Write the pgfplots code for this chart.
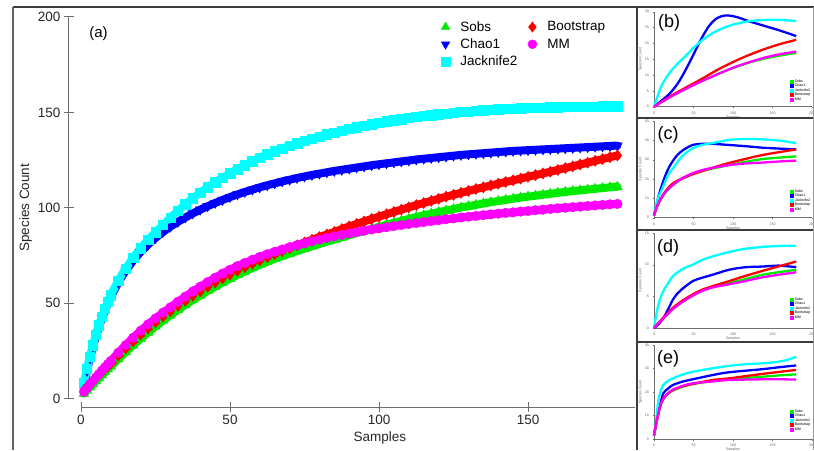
\documentclass[border=0pt]{standalone}
\usepackage{pgfplots}
\usepackage{pgfplotstable}
\pgfplotsset{compat=1.18}
\usepackage{fontspec}
\setmainfont{Liberation Sans}
\definecolor{cgreen}{RGB}{0,235,0}
\definecolor{cblue}{RGB}{0,0,255}
\definecolor{ccyan}{RGB}{0,255,255}
\definecolor{cred}{RGB}{255,0,0}
\definecolor{cmag}{RGB}{255,0,255}
\definecolor{axgray}{RGB}{110,110,110}
\definecolor{frame}{RGB}{60,60,60}
\newcommand\mainfs{\fontsize{13.5}{16}\selectfont}
\newcommand\tinyfs{\fontsize{3.6}{4.2}\selectfont}
\pgfplotsset{/pgf/number format/assume math mode=true}

\pgfplotstableread{
x S C J B M
1 2.5 7 8 4.5 3.5
2 4.2 14.5 15.5 6.2 5.5
3 5.9 21 22 7.8 7.5
4 7.5 27 28 9.4 9.3
5 9.1 32.5 33.5 10.9 11.0
6 10.7 37.5 38.5 12.4 12.8
7 12.3 42 43 13.9 14.6
8 13.9 46 47 15.4 16.3
9 15.4 49.8 50.8 16.8 18.0
10 16.9 53.2 54.2 18.3 19.7
12.5 20.7 60.8 61.8 22.5 24.0
15 24.3 67.0 68.2 26.3 28.0
17.5 27.9 72.3 73.8 30.0 31.9
20 31.3 76.8 78.8 33.5 35.5
22.5 34.6 80.7 83.2 36.8 38.9
25 37.8 84.2 87.2 40.0 42.0
27.5 40.8 87.3 91.0 43.0 45.0
30 43.6 90.1 94.8 45.8 47.8
32.5 46.4 92.6 98.4 48.6 50.7
35 49.0 94.9 101.8 51.2 53.4
37.5 51.6 97.0 105.0 53.8 56.1
40 54.0 99.0 108.0 56.2 58.6
42.5 56.4 100.8 110.8 58.6 61.0
45 58.6 102.5 113.4 60.8 63.3
47.5 60.8 104.1 115.8 63.0 65.5
50 62.8 105.6 118.1 65.0 67.5
52.5 64.8 107.0 120.3 67.0 69.4
55 66.6 108.3 122.4 68.9 71.1
57.5 68.4 109.5 124.4 70.7 72.7
60 70.1 110.7 126.3 72.4 74.2
62.5 71.7 111.8 128.0 74.1 75.6
65 73.2 112.8 129.6 75.7 76.9
67.5 74.6 113.8 131.1 77.3 78.1
70 76.0 114.7 132.5 78.8 79.3
72.5 77.3 115.6 133.8 80.3 80.4
75 78.6 116.4 135.1 81.8 81.4
77.5 79.8 117.2 136.3 83.2 82.4
80 81.0 117.9 137.4 84.6 83.3
82.5 82.2 118.6 138.5 86.0 84.2
85 83.3 119.3 139.5 87.3 85.0
87.5 84.5 119.9 140.5 88.8 85.8
90 85.6 120.5 141.4 90.2 86.5
92.5 86.7 121.1 142.3 91.5 87.2
95 87.8 121.7 143.1 92.8 87.9
97.5 88.9 122.3 143.9 94.1 88.6
100 90.0 122.8 144.6 95.3 89.2
102.5 91.1 123.3 145.3 96.6 89.8
105 92.1 123.8 145.9 97.8 90.4
107.5 93.1 124.3 146.5 99.0 91.0
110 94.1 124.8 147.1 100.2 91.5
112.5 95.1 125.3 147.6 101.4 92.0
115 96.0 125.7 148.1 102.5 92.5
117.5 96.9 126.1 148.6 103.6 93.0
120 97.7 126.5 149.0 104.7 93.5
122.5 98.5 126.9 149.4 105.8 94.0
125 99.3 127.3 149.8 106.8 94.4
127.5 100.1 127.7 150.2 107.8 94.9
130 100.8 128.0 150.5 108.8 95.3
132.5 101.5 128.3 150.8 109.8 95.7
135 102.2 128.6 151.1 110.7 96.1
137.5 102.9 128.9 151.4 111.7 96.5
140 103.5 129.2 151.6 112.6 96.9
142.5 104.1 129.5 151.8 113.5 97.3
145 104.7 129.8 152.0 114.4 97.6
147.5 105.3 130.0 152.2 115.3 98.0
150 105.8 130.2 152.4 116.2 98.3
152.5 106.3 130.4 152.5 117.1 98.7
155 106.8 130.6 152.6 118.0 99.0
157.5 107.3 130.8 152.7 118.9 99.4
160 107.8 131.0 152.8 119.8 99.7
162.5 108.3 131.2 152.9 120.8 100.0
165 108.7 131.4 153.0 121.7 100.3
167.5 109.1 131.6 153.0 122.7 100.6
170 109.5 131.8 153.1 123.6 100.9
172.5 109.9 132.0 153.1 124.6 101.2
175 110.3 132.2 153.2 125.5 101.5
177.5 110.7 132.4 153.2 126.5 101.8
180 111.0 132.6 153.2 127.4 102.0
}\maindata

\pgfplotsset{
  smallpanel/.style={
    scale only axis, width=158pt, height=95pt,
    xmin=0, xmax=200, clip=false,
    axis lines*=left, axis line style={axgray, line width=0.4pt},
    xtick={0,50,100,150,200},
    tick style={axgray, line width=0.3pt},
    major tick length=1.5pt, tick align=outside,
    tick label style={font=\tinyfs, text=black!60},
    xlabel=Samples, ylabel=Species Count,
    label style={font=\tinyfs, text=black!60},
    xlabel style={yshift=5.5pt},
    ylabel style={yshift=-4pt},
    legend cell align=left,
    legend image code/.code={\fill[##1] (-0.9pt,-0.9pt) rectangle (0.9pt,0.9pt);},
    legend style={draw=none, fill=none, font=\tinyfs, anchor=north west,
      inner sep=0pt, row sep=-0.6pt, nodes={inner sep=0.5pt}},
    every axis plot/.append style={line width=2.3pt, smooth},
  },
  band/.style={line width=8pt, line join=round, line cap=round, forget plot},
}

\begin{document}
\begin{tikzpicture}[x=1pt,y=1pt]
\useasboundingbox (0,0) rectangle (814,450);

% ---------- main panel (a) ----------
\begin{axis}[at={(81pt,51.5pt)}, anchor=south west, scale only axis,
  width=554.3pt, height=381.5pt, xmin=0, xmax=186, ymin=0, ymax=200,
  axis lines=none, clip=false,
  legend image code/.code={\draw[#1] plot coordinates {(0pt,0pt)};},
  legend columns=2, legend cell align=left,
  legend style={draw=none, fill=none, font=\mainfs, inner sep=0pt,
    at={(rel axis cs:0.6495,0.993)}, anchor=north west,
    column sep=6pt, row sep=3pt, nodes={inner xsep=4.5pt, inner ysep=1.5pt}},
]
\addplot[cgreen, band] table[x=x,y=S]{\maindata};
\addplot[only marks, mark=triangle*, mark size=5.6, color=cgreen, forget plot] table[x=x,y=S]{\maindata};
\addplot[cblue, band] table[x=x,y=C]{\maindata};
\addplot[only marks, mark=triangle*, mark size=5.6, mark options={rotate=180}, color=cblue, forget plot] table[x=x,y=C]{\maindata};
\addplot[ccyan, band] table[x=x,y=J]{\maindata};
\addplot[only marks, mark=square*, mark size=4.7, color=ccyan, forget plot] table[x=x,y=J]{\maindata};
\addplot[cred, band] table[x=x,y=B]{\maindata};
\addplot[only marks, mark=diamond*, mark size=5.6, color=cred, forget plot] table[x=x,y=B]{\maindata};
\addplot[cmag, band] table[x=x,y=M]{\maindata};
\addplot[only marks, mark=*, mark size=4.8, color=cmag, forget plot] table[x=x,y=M]{\maindata};
\addlegendimage{only marks, mark=triangle*, mark size=5, color=cgreen}
\addlegendentry{Sobs}
\addlegendimage{only marks, mark=diamond*, mark size=5.2, color=cred}
\addlegendentry{Bootstrap}
\addlegendimage{only marks, mark=triangle*, mark size=5, mark options={rotate=180}, color=cblue}
\addlegendentry{Chao1}
\addlegendimage{only marks, mark=*, mark size=4.5, color=cmag}
\addlegendentry{MM}
\addlegendimage{only marks, mark=square*, mark size=4.3, color=ccyan}
\addlegendentry{Jacknife2}
\end{axis}

% x axis of (a), detached
\begin{axis}[at={(81pt,43pt)}, anchor=south west, scale only axis,
  width=554.3pt, height=5pt, xmin=0, xmax=186, ymin=0, ymax=1,
  axis x line*=bottom, axis y line=none, ytick=\empty,
  xtick={0,50,100,150}, tick align=center, major tick length=10pt,
  axis line style={axgray, line width=1pt}, tick style={axgray, line width=1pt},
  tick label style={font=\mainfs, text=black!85},
  xlabel=Samples,
  every axis x label/.style={at={(axis description cs:0.539,0)}, yshift=-31pt, anchor=center, font=\mainfs, text=black!85},
]
\end{axis}

% y axis of (a), detached
\begin{axis}[at={(69pt,51.5pt)}, anchor=south west, scale only axis,
  width=5pt, height=381.5pt, xmin=0, xmax=1, ymin=0, ymax=200,
  axis y line*=left, axis x line=none, xtick=\empty,
  ytick={0,50,100,150,200}, tick align=center, major tick length=10pt,
  axis line style={axgray, line width=1pt}, tick style={axgray, line width=1pt},
  tick label style={font=\mainfs, text=black!85},
  ylabel=Species Count,
  every axis y label/.style={at={(axis description cs:0,0.5)}, xshift=-43.3pt, rotate=90, anchor=center, font=\mainfs, text=black!85},
]
\end{axis}

\node[font=\fontsize{15}{17}\selectfont] at (98.5,416) {(a)};

% ---------- panel (b) ----------
\begin{axis}[smallpanel, at={(654pt,343.3pt)}, anchor=south west,
  ymin=0, ymax=30, ytick={0,5,...,30},
  legend style={at={(rel axis cs:0.861,0.29)}}]
\addplot[cgreen] coordinates {(0,0) (20,3.0) (40,5.6) (60,8) (80,10.2) (100,12.2) (120,13.9) (140,15.2) (160,16.2) (180,17.0)};
\addlegendentry{Sobs}
\addplot[cblue] coordinates {(0,0) (10,2) (20,4.2) (30,7.3) (40,11.6) (50,16.5) (60,21.5) (70,25.6) (80,28) (90,28.8) (100,28.6) (110,27.9) (120,27) (140,25.5) (160,24) (180,22.3)};
\addlegendentry{Chao1}
\addplot[ccyan] coordinates {(0,0) (5,3.6) (10,6.9) (20,10.8) (30,13.6) (40,16) (50,18.6) (60,20.8) (70,22.6) (80,24) (90,25.1) (100,25.9) (110,26.5) (120,27) (140,27.4) (160,27.4) (180,27.05)};
\addlegendentry{Jacknife2}
\addplot[cred] coordinates {(0,0) (20,3.2) (40,6) (60,8.7) (80,11.6) (100,14.1) (120,16.3) (140,18.2) (160,19.8) (180,21.1)};
\addlegendentry{Bootstrap}
\addplot[cmag] coordinates {(0,0) (20,3.0) (40,5.6) (60,8) (80,10.2) (100,12.3) (120,14) (140,15.5) (160,16.6) (180,17.4)};
\addlegendentry{MM}
\end{axis}
\node[font=\fontsize{18}{20}\selectfont] at (669,427.5) {(b)};

% ---------- panel (c) ----------
\begin{axis}[smallpanel, at={(654pt,232.3pt)}, anchor=south west,
  height=96.7pt, ymin=0, ymax=50, ytick={0,10,...,50},
  legend style={at={(rel axis cs:0.861,0.297)}}]
\addplot[cgreen] coordinates {(0,1) (3,4.8) (7.5,8.8) (15,13.3) (24,16.8) (36,20.2) (49,22.6) (60,24.1) (74,25.4) (95,27.2) (115,28.8) (137,30.3) (160,31.1) (180,31.7)};
\addlegendentry{Sobs}
\addplot[cblue] coordinates {(0,1) (3,6.5) (6,11.5) (10,16.8) (15,22.5) (20,26.8) (25,30) (30,32.6) (37,35) (49,37.6) (62,38.2) (74,38.2) (95,37.6) (115,37) (137,36.2) (160,35.7) (180,35.3)};
\addlegendentry{Chao1}
\addplot[ccyan] coordinates {(0,1) (3,7) (6,11) (10,14.5) (15,19.5) (20,23.5) (24,25.5) (30,29) (37,32.4) (49,35.9) (60,37.5) (74,38.6) (95,40.2) (116,40.7) (137,40.5) (158,39.9) (180,38.5)};
\addlegendentry{Jacknife2}
\addplot[cred] coordinates {(0,1.5) (3,5) (7.5,9.1) (15,14) (24,17.8) (36,20.3) (49,22.5) (60,24) (74,25.8) (95,28.3) (115,30.3) (137,32.4) (160,34) (180,35.3)};
\addlegendentry{Bootstrap}
\addplot[cmag] coordinates {(0,1) (3,5) (7.5,9) (15,13.5) (24,17) (36,20.5) (49,23) (60,24.5) (74,25.8) (95,27.2) (115,28) (137,28.5) (160,29.1) (180,29.5)};
\addlegendentry{MM}
\end{axis}
\node[font=\fontsize{18}{20}\selectfont] at (668,315) {(c)};

% ---------- panel (d) ----------
\begin{axis}[smallpanel, at={(654pt,122pt)}, anchor=south west,
  ymin=0, ymax=15, ytick={0,5,10,15},
  legend style={at={(rel axis cs:0.861,0.326)}}]
\addplot[cgreen] coordinates {(0,0) (10,1.3) (24,3.0) (37,4.2) (49,5.1) (60,5.8) (74,6.45) (95,7.1) (115,7.7) (137,8.4) (160,8.85) (180,9.2)};
\addlegendentry{Sobs}
\addplot[cblue] coordinates {(0,0) (5,0.5) (12,1.6) (18,3) (24,4.5) (30,5.5) (37,6.3) (49,7.4) (60,7.9) (74,8.4) (95,9.2) (116,9.6) (137,9.7) (158,9.85) (180,9.6)};
\addlegendentry{Chao1}
\addplot[ccyan] coordinates {(0,0) (3.3,2.4) (7,4.3) (11.7,5.8) (18,7.1) (24,8.2) (36,9.3) (49,10) (60,10.7) (74,11.3) (95,12) (115,12.5) (137,12.8) (158,12.95) (180,13.0)};
\addlegendentry{Jacknife2}
\addplot[cred] coordinates {(0,0) (10,1.4) (24,3.2) (37,4.4) (49,5.3) (60,6) (74,6.6) (95,7.4) (115,8.2) (137,9.0) (160,9.8) (180,10.5)};
\addlegendentry{Bootstrap}
\addplot[cmag] coordinates {(0,0) (10,1.3) (24,3.0) (37,4.2) (49,5.1) (60,5.8) (74,6.4) (95,6.9) (115,7.4) (137,8.0) (160,8.45) (180,8.8)};
\addlegendentry{MM}
\end{axis}
\node[font=\fontsize{18}{20}\selectfont] at (668,202) {(d)};

% ---------- panel (e) ----------
\begin{axis}[smallpanel, at={(654pt,11pt)}, anchor=south west,
  height=94pt, ymin=0, ymax=40, ytick={0,10,...,40},
  legend style={at={(rel axis cs:0.861,0.319)}}]
\addplot[cgreen] coordinates {(0,1.5) (3,6.8) (7.5,13.3) (11.7,16.8) (18,19.2) (24,20.6) (36,22.2) (49,23.4) (74,24.6) (95,25.4) (137,26.5) (160,27.1) (180,27.5)};
\addlegendentry{Sobs}
\addplot[cblue] coordinates {(0,1.5) (3.3,8) (7.5,14) (11.7,19.4) (18,21.5) (24,23) (36,24.4) (49,25.4) (74,27.2) (95,28.4) (137,29.7) (160,30.6) (180,31.3)};
\addlegendentry{Chao1}
\addplot[ccyan] coordinates {(0,1.5) (1.25,3.1) (3.3,10.2) (5,15) (7.5,19.4) (11.7,23) (18,24.8) (24,25.8) (36,27.4) (49,28.6) (74,30.1) (95,31.1) (115,31.8) (137,32.2) (158,32.9) (170,33.8) (180,35.0)};
\addlegendentry{Jacknife2}
\addplot[cred] coordinates {(0,1.5) (3,7) (7.5,13.7) (11.7,17.3) (18,19.5) (24,20.9) (36,22.4) (49,23.4) (74,25.1) (95,25.8) (137,27.7) (160,28.6) (180,29.4)};
\addlegendentry{Bootstrap}
\addplot[cmag] coordinates {(0,1.5) (3,7) (7.5,13.5) (11.7,17) (18,19.5) (24,21) (36,22.6) (49,23.7) (74,24.5) (95,25.1) (137,25.4) (160,25.4) (180,25.3)};
\addlegendentry{MM}
\end{axis}
\node[font=\fontsize{18}{20}\selectfont] at (668,91) {(e)};

% ---------- frames ----------
\draw[frame, line width=2pt] (13,442.5) -- (814,442.5);
\draw[frame!80, line width=1.5pt] (13,0) -- (13,442.5);
\draw[frame, line width=2pt] (636.5,0) -- (636.5,442.5);
\draw[frame, line width=2pt] (636.5,332) -- (814,332);
\draw[frame, line width=2pt] (636.5,220) -- (814,220);
\draw[frame, line width=2pt] (636.5,108.3) -- (814,108.3);
\draw[black!40, line width=0.8pt] (813.5,0) -- (813.5,442.5);
\end{tikzpicture}
\end{document}
